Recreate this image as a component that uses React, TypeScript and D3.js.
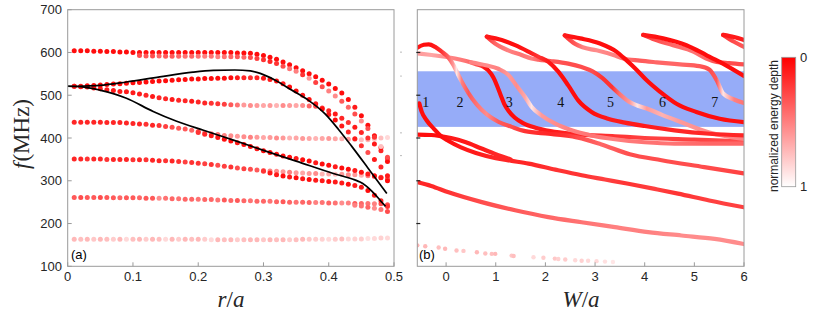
import * as d3 from 'd3';

// ---------- left panel (a): f vs r/a ----------
const rGrid = [0.01, 0.02, 0.03, 0.04, 0.05, 0.06, 0.07, 0.08, 0.09, 0.1,
  0.11, 0.12, 0.13, 0.14, 0.15, 0.16, 0.17, 0.18, 0.19, 0.2,
  0.21, 0.22, 0.23, 0.24, 0.25, 0.26, 0.27, 0.28, 0.29, 0.3,
  0.31, 0.32, 0.33, 0.34, 0.35, 0.36, 0.37, 0.38, 0.39, 0.4,
  0.41, 0.42, 0.43, 0.44, 0.45, 0.46, 0.47, 0.48, 0.49];

const band1F = [163, 163, 163, 163, 163, 163, 163, 163, 163, 163, 163, 163, 163, 163, 163, 163, 163, 163, 163, 163, 163, 162, 162, 162, 162, 162, 162, 162, 162, 162, 162, 162, 162, 162, 162, 163, 163, 163, 163, 163, 163, 164, 164, 164, 164, 165, 165, 166, 166];
const band1D = [0.72, 0.75, 0.72, 0.78, 0.72, 0.75, 0.8, 0.72, 0.85, 0.75, 0.72, 0.8, 0.72, 0.75, 0.85, 0.72, 0.8, 0.72, 0.75, 0.72, 0.8, 0.85, 0.72, 0.75, 0.72, 0.8, 0.75, 0.72, 0.72, 0.78, 0.72, 0.75, 0.72, 0.8, 0.75, 0.72, 0.78, 0.8, 0.82, 0.85, 0.8, 0.75, 0.85, 0.82, 0.8, 0.88, 0.85, 0.82, 0.85];

const band2F = [261, 261, 261, 261, 261, 261, 260, 260, 260, 260, 260, 259, 259, 259, 259, 258, 258, 257, 257, 257, 256, 256, 255, 255, 254, 254, 253, 253, 252, 252, 252, 251, 251, 250, 250, 250, 249, 249, 249, 248, 248, 248, 248, 247, 247, 247, 246, 246, 244];
const band2D = [0.35, 0.3, 0.35, 0.35, 0.3, 0.35, 0.35, 0.4, 0.35, 0.35, 0.4, 0.35, 0.35, 0.55, 0.45, 0.4, 0.45, 0.4, 0.4, 0.45, 0.4, 0.4, 0.45, 0.35, 0.4, 0.35, 0.4, 0.45, 0.4, 0.4, 0.45, 0.4, 0.35, 0.4, 0.45, 0.4, 0.4, 0.5, 0.45, 0.4, 0.45, 0.55, 0.5, 0.35, 0.4, 0.45, 0.5, 0.3, 0.3];
const band2LowF = [243, 241, 238, 236, 233, 228];
const band2LowD = [0.5, 0.45, 0.4, 0.55, 0.45, 0.3];

const band3F = [351, 351, 351, 351, 351, 350, 350, 350, 350, 349, 349, 349, 348, 347, 347, 346, 345, 344, 343, 341, 340, 338, 336, 334, 332, 330, 328, 327, 325, 324, 323, 322, 321, 320, 319, 318, 317, 317, 316, 316, 315, 315, 314, 314, 313, 312, 310, 308, 305];
const band3D = [0.15, 0.15, 0.2, 0.15, 0.15, 0.2, 0.15, 0.15, 0.15, 0.2, 0.15, 0.2, 0.15, 0.15, 0.2, 0.15, 0.2, 0.25, 0.2, 0.2, 0.25, 0.2, 0.3, 0.25, 0.2, 0.3, 0.25, 0.3, 0.35, 0.45, 0.5, 0.55, 0.6, 0.5, 0.6, 0.65, 0.6, 0.55, 0.7, 0.65, 0.75, 0.6, 0.55, 0.6, 0.7, 0.5, 0.45, 0.4, 0.35];
const band3LowF = [322, 318, 314, 311, 309, 307, 305, 303, 301, 300, 298, 297, 295, 292, 289, 285, 277, 266, 253, 240];
const band3LowD = [0.2, 0.1, 0.1, 0.05, 0.1, 0.05, 0.1, 0.05, 0.1, 0.1, 0.05, 0.1, 0.1, 0.05, 0.1, 0.1, 0.05, 0.1, 0.15, 0.2];

const band4F = [437, 437, 437, 437, 437, 436, 436, 436, 435, 434, 433, 432, 430, 429, 427, 425, 423, 421, 418, 415, 412, 410, 408, 406, 405, 404, 403, 402, 402, 401, 401, 400, 400, 400, 400, 399, 399, 399, 399, 399, 398, 398, 397, 397, 396, 396, 397, 400, 401];
const band4D = [0.15, 0.15, 0.15, 0.15, 0.15, 0.15, 0.15, 0.15, 0.15, 0.15, 0.15, 0.2, 0.15, 0.2, 0.25, 0.3, 0.35, 0.35, 0.4, 0.35, 0.45, 0.5, 0.45, 0.5, 0.55, 0.6, 0.55, 0.5, 0.6, 0.65, 0.6, 0.55, 0.6, 0.7, 0.65, 0.6, 0.65, 0.7, 0.65, 0.6, 0.65, 0.7, 0.6, 0.65, 0.75, 0.7, 0.8, 0.75, 0.85];
const band4LowF = [413, 409, 405, 401, 397, 393, 389, 385, 380, 375, 370, 366, 362, 358, 355, 352, 349, 346, 342, 339, 336, 333, 330, 327, 324, 320, 316, 312, 307, 300];
const band4LowD = [0.2, 0.15, 0.1, 0.1, 0.05, 0.05, 0.1, 0.05, 0.05, 0.1, 0.05, 0.05, 0.1, 0.05, 0.05, 0.1, 0.05, 0.05, 0.1, 0.05, 0.05, 0.1, 0.05, 0.05, 0.1, 0.05, 0.1, 0.05, 0.1, 0.05];

const band5F = [521, 520, 519, 517, 515, 513, 511, 509, 508, 506, 503, 500, 497, 494, 492, 490, 488, 487, 486, 484, 482, 481, 480, 479, 478, 477, 477, 476, 476, 476, 476, 476, 476, 476, 476, 476, 475, 474, 470, 464, 456, 446, 436, 425, 413, 400, 386, 370, 352];
const band5D = [0.1, 0.1, 0.1, 0.1, 0.1, 0.1, 0.1, 0.1, 0.1, 0.1, 0.1, 0.15, 0.1, 0.15, 0.15, 0.1, 0.15, 0.15, 0.1, 0.15, 0.15, 0.2, 0.2, 0.25, 0.35, 0.45, 0.6, 0.55, 0.6, 0.65, 0.6, 0.7, 0.55, 0.6, 0.65, 0.55, 0.4, 0.3, 0.2, 0.15, 0.1, 0.15, 0.2, 0.1, 0.15, 0.2, 0.1, 0.15, 0.2];

const band6F = [521, 521, 522, 523, 524, 525, 526, 527, 528, 529, 530, 531, 532, 533, 534, 535, 536, 537, 538, 538, 539, 539, 540, 540, 541, 541, 541, 541, 541, 540, 537, 533, 527, 519, 510, 500, 490, 480, 468, 455, 442, 428, 414, 398, 382, 366, 350, 332, 312];
const band6D = [0.1, 0.1, 0.05, 0.05, 0.05, 0.05, 0.05, 0.05, 0.05, 0.05, 0.05, 0.05, 0.05, 0.05, 0.05, 0.05, 0.05, 0.05, 0.05, 0.05, 0.05, 0.05, 0.05, 0.05, 0.05, 0.1, 0.15, 0.2, 0.15, 0.1, 0.1, 0.05, 0.1, 0.05, 0.05, 0.1, 0.05, 0.1, 0.05, 0.1, 0.05, 0.1, 0.15, 0.1, 0.2, 0.3, 0.1, 0.15, 0.1];

const band7F = [604, 604, 604, 603, 603, 602, 602, 601, 601, 600, 600, 600, 600, 600, 600, 600, 600, 600, 600, 600, 600, 600, 600, 600, 600, 599, 599, 598, 596, 593, 589, 584, 578, 571, 564, 557, 550, 543, 535, 526, 516, 505, 490, 472, 452, 430, 405, 378, 345];
const band7D = [0.05, 0.05, 0.05, 0.05, 0.05, 0.05, 0.05, 0.05, 0.05, 0.05, 0.05, 0.05, 0.05, 0.05, 0.05, 0.05, 0.05, 0.05, 0.05, 0.05, 0.05, 0.05, 0.05, 0.05, 0.05, 0.05, 0.05, 0.05, 0.05, 0.05, 0.05, 0.05, 0.05, 0.05, 0.05, 0.05, 0.05, 0.05, 0.05, 0.05, 0.05, 0.05, 0.05, 0.1, 0.05, 0.05, 0.05, 0.05, 0.05];
const band7LowF = [593, 592, 592, 592, 591, 591, 591, 591, 591, 591, 591, 591, 590, 590, 590, 590, 589, 588, 586, 583, 579, 574, 568, 562, 556, 548, 540, 530, 520, 510, 498, 486, 472, 456, 440, 422, 402, 380, 355];
const band7LowD = [0.3, 0.35, 0.3, 0.4, 0.35, 0.35, 0.4, 0.45, 0.4, 0.45, 0.5, 0.45, 0.5, 0.45, 0.4, 0.35, 0.4, 0.3, 0.25, 0.2, 0.15, 0.2, 0.3, 0.45, 0.5, 0.2, 0.6, 0.25, 0.3, 0.5, 0.55, 0.35, 0.4, 0.3, 0.55, 0.3, 0.2, 0.75, 0.3];

// black reference curves (r/a, MHz)
const blackUpper: [number, number][] = [[0, 521], [0.025, 521.5], [0.049, 523], [0.09, 531], [0.141, 543], [0.192, 554], [0.223, 558], [0.256, 559], [0.28, 557], [0.295, 551], [0.318, 535], [0.343, 512], [0.369, 488], [0.394, 457], [0.415, 420], [0.435, 381], [0.46, 330], [0.489, 270]];
const blackLower: [number, number][] = [[0, 521], [0.025, 519], [0.049, 512], [0.09, 493], [0.131, 462], [0.167, 439], [0.208, 418], [0.254, 395], [0.3, 371], [0.35, 346], [0.407, 317], [0.44, 302], [0.448, 297], [0.466, 276], [0.479, 254], [0.487, 240]];

// ---------- right panel (b): points are [W/a, MHz, depth] ----------
type P3 = [number, number, number];
const curveLowest: P3[] = [[-0.58, 297, 0.15], [-0.3, 288, 0.15], [0.05, 273, 0.2], [0.72, 250, 0.3], [1.39, 231, 0.35], [2.06, 215, 0.4], [2.73, 203, 0.45], [3.4, 191.5, 0.5], [4.07, 180, 0.5], [4.74, 172, 0.55], [5.41, 164, 0.55], [6.0, 152, 0.55]];
const curveOne: P3[] = [[-0.54, 481, 0.05], [-0.49, 461, 0.05], [-0.39, 441, 0.05], [-0.25, 422, 0.05], [-0.12, 406, 0.05], [0.05, 393, 0.05], [0.3, 378, 0.1], [0.6, 365, 0.1], [1.0, 353, 0.15], [1.3, 347, 0.15], [1.66, 340, 0.15], [2.2, 326, 0.2], [2.73, 313, 0.2], [3.2, 303, 0.25], [3.67, 293, 0.2], [4.2, 281, 0.25], [4.67, 270, 0.2], [5.3, 254, 0.25], [6.0, 238, 0.25]];
const curveLens0: P3[] = [[-0.58, 408, 0.05], [-0.3, 407, 0.05], [-0.1, 404, 0.05], [0.1, 400, 0.1], [0.4, 390, 0.1], [0.7, 376, 0.1], [1.0, 362, 0.15], [1.3, 350, 0.15]];
const curveE0a: P3[] = [[-0.58, 611, 0.1], [-0.45, 618, 0.05], [-0.35, 619, 0.05], [-0.22, 613, 0.1], [-0.09, 602, 0.2], [0.05, 588, 0.4], [0.15, 570, 0.6], [0.21, 556, 0.9], [0.31, 533, 0.5], [0.45, 505, 0.35], [0.62, 478, 0.45], [0.82, 455, 0.55], [1.05, 438, 0.35], [1.32, 426, 0.3], [1.59, 416, 0.2], [2.06, 410, 0.15], [2.39, 406, 0.2], [2.66, 401, 0.3], [3.13, 385, 0.4], [3.7, 362, 0.3], [4.34, 348, 0.3], [5.2, 332, 0.3], [6.0, 317, 0.25]];
const curveE0b: P3[] = [[-0.58, 598, 0.6], [-0.29, 594, 0.65], [-0.02, 590, 0.55], [0.18, 586, 0.5], [0.4, 580, 0.45], [0.62, 572, 0.3], [0.75, 567, 0.1], [0.85, 558, 0.05], [0.95, 542, 0.05], [1.03, 521, 0.05], [1.1, 500, 0.05], [1.17, 480, 0.05], [1.26, 463, 0.05], [1.38, 448, 0.05], [1.55, 435, 0.05], [1.8, 424, 0.1], [2.1, 416, 0.1], [2.6, 409, 0.15], [3.4, 404, 0.2], [4.0, 400, 0.25], [5.0, 396, 0.25], [6.0, 392, 0.3]];
const curveP1: P3[] = [[0.5, 577, 0.5], [0.8, 570, 0.55], [1.05, 562, 0.5], [1.25, 548, 0.6], [1.42, 522, 0.55], [1.59, 496, 0.65], [1.72, 473, 0.9], [1.92, 453, 0.6], [2.19, 434, 0.55], [2.53, 418, 0.5], [2.93, 406, 0.45], [3.4, 397, 0.5], [4.0, 390, 0.45], [4.6, 387, 0.45], [5.3, 387, 0.4], [6.0, 387, 0.4]];
const curveE1a: P3[] = [[0.82, 637, 0.1], [1.12, 629, 0.05], [1.39, 617, 0.05], [1.66, 602, 0.1], [1.86, 590, 0.2], [2.06, 578, 0.1], [2.26, 555, 0.05], [2.46, 523, 0.05], [2.66, 488, 0.05], [2.93, 461, 0.05], [3.26, 445, 0.1], [3.6, 436, 0.1], [4.0, 428, 0.1], [4.6, 418, 0.15], [5.3, 410, 0.15], [6.0, 406, 0.15]];
const curveE1b: P3[] = [[0.82, 637, 0.2], [0.986, 621, 0.4], [1.25, 605, 0.5], [1.52, 594, 0.45], [1.72, 586, 0.5], [1.86, 583, 0.4], [2.1, 580, 0.35], [2.46, 574, 0.3], [2.73, 566, 0.3], [2.95, 556, 0.3], [3.15, 540, 0.2], [3.35, 518, 0.2], [3.5, 502, 0.45], [3.7, 484, 0.6], [3.85, 476, 0.9], [4.04, 469, 0.6], [4.35, 454, 0.7], [4.71, 438, 0.6], [5.3, 413, 0.55], [6.0, 398, 0.5]];
const curveE2a: P3[] = [[2.39, 640, 0.1], [2.7, 633, 0.05], [3.1, 621, 0.05], [3.43, 602, 0.05], [3.63, 582, 0.05], [3.84, 559, 0.05], [4.04, 535, 0.05], [4.31, 508, 0.05], [4.64, 480, 0.05], [5.04, 461, 0.05], [5.51, 445, 0.05], [6.0, 437, 0.05]];
const curveE2b: P3[] = [[2.39, 640, 0.2], [2.6, 620, 0.35], [2.75, 612, 0.5], [3.03, 605, 0.55], [3.37, 594, 0.5], [3.57, 586, 0.45], [3.9, 581, 0.35], [4.24, 577, 0.4], [4.71, 572, 0.4], [5.1, 568, 0.35], [5.3, 560, 0.3], [5.45, 535, 0.35], [5.58, 504, 0.9], [5.8, 490, 0.5], [6.0, 482, 0.45]];
const curveE3a: P3[] = [[3.97, 641, 0.1], [4.37, 633, 0.05], [4.84, 617, 0.05], [5.24, 594, 0.05], [5.51, 578, 0.05], [6.0, 545, 0.05]];
const curveE3b: P3[] = [[3.97, 641, 0.2], [4.2, 630, 0.3], [4.57, 617, 0.4], [4.98, 602, 0.45], [5.24, 586, 0.4], [5.45, 578, 0.3], [5.7, 575, 0.3], [6.0, 572, 0.3]];
const curveE4a: P3[] = [[5.58, 641, 0.1], [5.8, 636, 0.1], [6.0, 629, 0.1]];
const curveE4b: P3[] = [[5.58, 641, 0.2], [5.8, 625, 0.3], [6.0, 613, 0.35]];

const faintW = [-0.58, -0.42, -0.15, -0.02, 0.21, 0.35, 0.62, 0.79, 0.92, 0.99, 1.32, 1.36, 1.76, 1.96, 2.19, 2.26, 2.4, 2.6, 2.73, 2.86, 3.03, 3.2, 3.36];
const faintF = [149, 147, 144, 141, 137, 136, 133, 130, 129, 129, 125, 124, 121, 120, 118, 117, 116, 114, 113, 113, 112, 111, 110];
const faintD = [0.7, 0.72, 0.75, 0.72, 0.75, 0.78, 0.72, 0.75, 0.75, 0.72, 0.78, 0.75, 0.85, 0.8, 0.78, 0.82, 0.8, 0.85, 0.82, 0.85, 0.85, 0.88, 0.9];

const gapBand = [426, 556];
const modeLabels = ['1', '2', '3', '4', '5', '6', '7'];
const modeLabelW = [-0.41, 0.28, 1.27, 2.31, 3.31, 4.36, 5.41];
const modeLabelF = 484;

const leftTicks = [0, 0.1, 0.2, 0.3, 0.4, 0.5];
const rightTicks = [0, 1, 2, 3, 4, 5, 6];
const fTicks = [100, 200, 300, 400, 500, 600, 700];

const sans = '"Liberation Sans", Arial, sans-serif';
const serif = '"Liberation Serif", "Times New Roman", serif';
const frame = '#9a9a9a';
const ink = '#262626';

export default function App() {
  const xL = d3.scaleLinear().domain([0, 0.5]).range([67.7, 394]);
  const xR = d3.scaleLinear().domain([-0.58, 6]).range([417.3, 744]);
  const y = d3.scaleLinear().domain([100, 700]).range([266.3, 9.7]);
  const depth = d3.interpolateRgb('#ff0000', '#ffffff');

  const mainSeries = [
    [band1F, band1D], [band2F, band2D], [band3F, band3D], [band4F, band4D],
    [band5F, band5D], [band6F, band6D], [band7F, band7D],
  ];
  const branchSeries = [
    [band2LowF, band2LowD], [band3LowF, band3LowD], [band4LowF, band4LowD], [band7LowF, band7LowD],
  ];

  const dots: { cx: number; cy: number; c: string }[] = [];
  mainSeries.forEach(([f, d]) => {
    f.forEach((v, i) => dots.push({ cx: xL(rGrid[i]), cy: y(v), c: depth(d[i]) }));
  });
  branchSeries.forEach(([f, d]) => {
    const rs = rGrid.slice(rGrid.length - f.length);
    f.forEach((v, i) => dots.push({ cx: xL(rs[i]), cy: y(v), c: depth(d[i]) }));
  });

  const blackLine = d3.line<[number, number]>()
    .x(p => xL(p[0])).y(p => y(p[1])).curve(d3.curveMonotoneX);

  const curves = [curveLowest, curveOne, curveLens0, curveE0b, curveP1, curveE0a,
    curveE1b, curveE1a, curveE2b, curveE2a, curveE3b, curveE3a, curveE4b, curveE4a];
  const curveLine = d3.line<P3>()
    .x(p => xR(p[0])).y(p => y(p[1])).curve(d3.curveMonotoneX);

  const panelTop = y(700), panelBot = y(100);

  return (
    <svg width={830} height={316} style={{ position: 'absolute', left: 0, top: 0, background: '#fff' }}
      xmlns="http://www.w3.org/2000/svg">
      <defs>
        <clipPath id="clipR">
          <rect x={xR(-0.58)} y={panelTop} width={xR(6) - xR(-0.58)} height={panelBot - panelTop} />
        </clipPath>
        <clipPath id="clipL">
          <rect x={xL(0)} y={panelTop} width={xL(0.5) - xL(0)} height={panelBot - panelTop} />
        </clipPath>
        {curves.map((c, i) => {
          const x1 = xR(c[0][0]), x2 = xR(c[c.length - 1][0]);
          return (
            <linearGradient key={i} id={`g${i}`} gradientUnits="userSpaceOnUse" x1={x1} x2={x2} y1={0} y2={0}>
              {c.map((p, j) => (
                <stop key={j} offset={(xR(p[0]) - x1) / (x2 - x1)} stopColor={depth(p[2])} />
              ))}
            </linearGradient>
          );
        })}
        <linearGradient id="cbar" x1="0" x2="0" y1="0" y2="1">
          <stop offset="0" stopColor={depth(0)} />
          <stop offset="1" stopColor={depth(1)} />
        </linearGradient>
      </defs>

      {/* panel (a) */}
      <g clipPath="url(#clipL)">
        {dots.map((d, i) => <circle key={i} cx={d.cx} cy={d.cy} r={2.5} fill={d.c} />)}
        <path d={blackLine(blackUpper) || ''} fill="none" stroke="#000" strokeWidth={1.7} />
        <path d={blackLine(blackLower) || ''} fill="none" stroke="#000" strokeWidth={1.7} />
      </g>
      <rect x={xL(0)} y={panelTop} width={xL(0.5) - xL(0)} height={panelBot - panelTop}
        fill="none" stroke={frame} strokeWidth={1} />
      {fTicks.map(t => (
        <g key={t}>
          <line x1={xL(0)} x2={xL(0) + 4} y1={y(t)} y2={y(t)} stroke={frame} />
          <text x={62} y={y(t)} dy="0.35em" textAnchor="end" fontFamily={sans} fontSize={13} fill={ink}>{t}</text>
        </g>
      ))}
      {leftTicks.map(t => (
        <g key={t}>
          <line x1={xL(t)} x2={xL(t)} y1={panelBot} y2={panelBot - 4} stroke={frame} />
          <text x={xL(t)} y={281} textAnchor="middle" fontFamily={sans} fontSize={13} fill={ink}>{t}</text>
        </g>
      ))}
      <text x={71} y={259} fontFamily={sans} fontSize={13} fill="#000">(a)</text>
      <text transform="translate(29,134) rotate(-90)" textAnchor="middle" fontFamily={serif} fontSize={23} fill={ink}>
        <tspan fontStyle="italic">f</tspan><tspan dx={1}>(MHz)</tspan>
      </text>
      <text x={231} y={307} textAnchor="middle" fontFamily={serif} fontSize={23} fontStyle="italic" fill={ink}>
        r<tspan fontStyle="normal">/</tspan>a
      </text>

      {/* panel (b) */}
      <rect x={xR(-0.58)} y={y(gapBand[1])} width={xR(6) - xR(-0.58)} height={y(gapBand[0]) - y(gapBand[1])}
        fill="#96acf8" />
      <g clipPath="url(#clipR)">
        {faintW.map((w, i) => (
          <circle key={i} cx={xR(w)} cy={y(faintF[i])} r={2.2} fill={depth(faintD[i])} />
        ))}
        {curves.map((c, i) => (
          <path key={i} d={curveLine(c) || ''} fill="none" stroke={`url(#g${i})`} strokeWidth={4.2}
            strokeLinecap="round" strokeLinejoin="round" />
        ))}
      </g>
      {modeLabels.map((m, i) => (
        <text key={m} x={xR(modeLabelW[i])} y={y(modeLabelF)} dy="0.35em" textAnchor="middle"
          fontFamily={serif} fontSize={14} fill="#111">{m}</text>
      ))}
      <rect x={xR(-0.58)} y={panelTop} width={xR(6) - xR(-0.58)} height={panelBot - panelTop}
        fill="none" stroke={frame} strokeWidth={1} />
      {[600, 500, 400, 300, 200].map(t => (
        <line key={t} x1={xR(-0.58) - 1} x2={xR(-0.58) + 3} y1={y(t)} y2={y(t)} stroke="#222" strokeWidth={1.2} />
      ))}
      {[601, 545, 412, 359].map(t => (
        <circle key={t} cx={401} cy={y(t)} r={0.6} fill="#777" />
      ))}
      {rightTicks.map(t => (
        <g key={t}>
          <line x1={xR(t)} x2={xR(t)} y1={panelBot} y2={panelBot - 4} stroke={frame} />
          <text x={xR(t)} y={281} textAnchor="middle" fontFamily={sans} fontSize={13} fill={ink}>{t}</text>
        </g>
      ))}
      <text x={419} y={259} fontFamily={sans} fontSize={13} fill="#000">(b)</text>
      <text x={581} y={307} textAnchor="middle" fontFamily={serif} fontSize={23} fontStyle="italic" fill={ink}>
        W<tspan fontStyle="normal">/</tspan>a
      </text>

      {/* colorbar */}
      <rect x={781.7} y={57.3} width={14} height={129.4} fill="url(#cbar)" stroke={frame} strokeWidth={0.8} />
      <text x={800} y={57.3} dy="0.35em" fontFamily={sans} fontSize={13} fill={ink}>0</text>
      <text x={800} y={186.7} dy="0.35em" fontFamily={sans} fontSize={13} fill={ink}>1</text>
      <text transform="translate(778,126) rotate(-90)" textAnchor="middle" fontFamily={sans} fontSize={12} fill={ink}>
        normalized energy depth
      </text>
    </svg>
  );
}
